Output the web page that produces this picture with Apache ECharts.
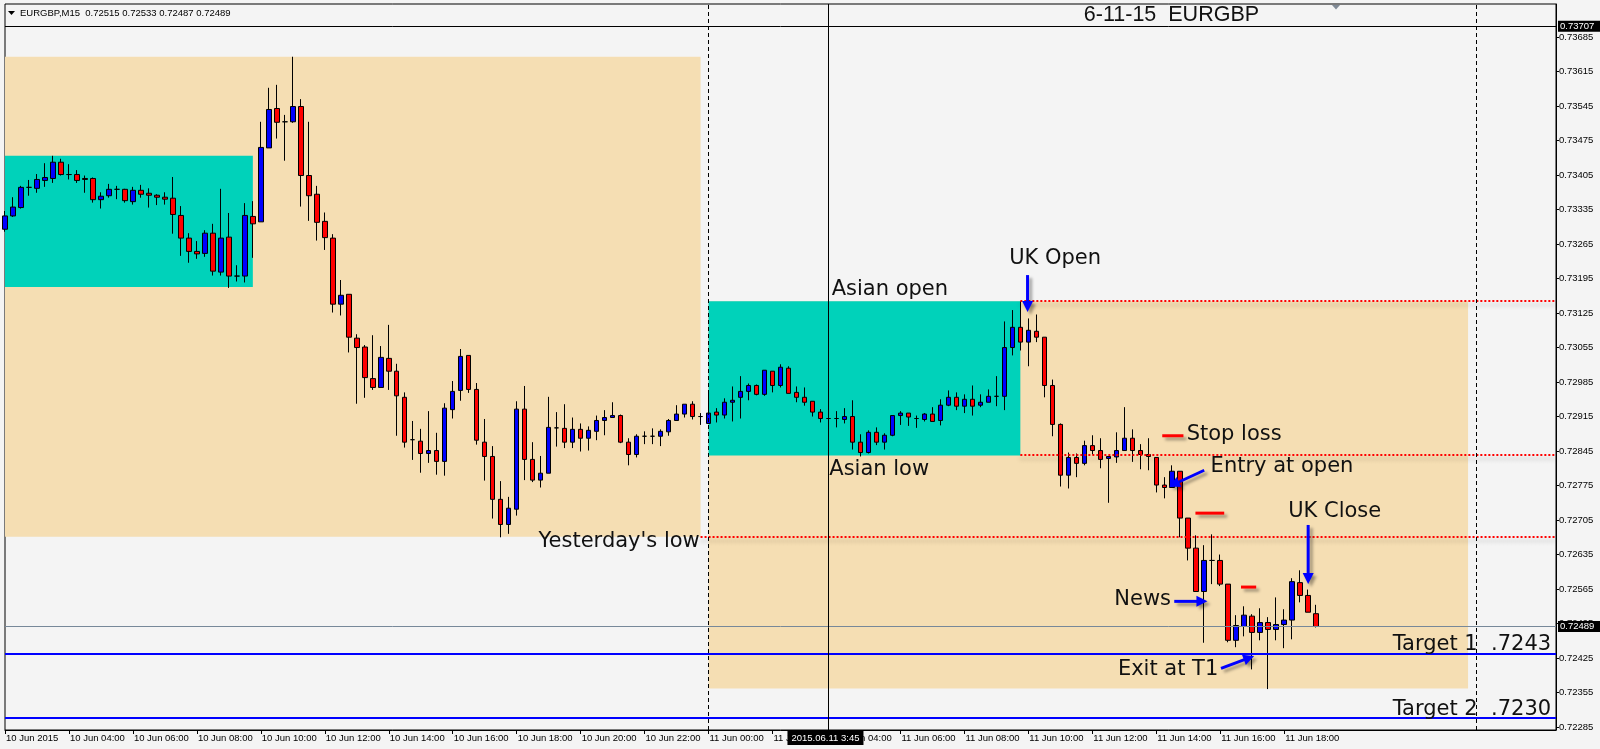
<!DOCTYPE html>
<html><head><meta charset="utf-8">
<script src="https://cdn.jsdelivr.net/npm/echarts/dist/echarts.min.js"></script>
<style>html,body{margin:0;padding:0;background:#f4f4f4}#c{width:1600px;height:749px}</style>
</head><body><div id="c"></div><script>
// ---------- data ----------
const symbol = 'EURGBP';
const period = 'M15';
const chartTitle = '6-11-15  EURGBP';
const xTickLabels = ['10 Jun 2015','10 Jun 04:00','10 Jun 06:00','10 Jun 08:00','10 Jun 10:00','10 Jun 12:00','10 Jun 14:00','10 Jun 16:00','10 Jun 18:00','10 Jun 20:00','10 Jun 22:00','11 Jun 00:00','11 Jun 02:00','11 Jun 04:00','11 Jun 06:00','11 Jun 08:00','11 Jun 10:00','11 Jun 12:00','11 Jun 14:00','11 Jun 16:00','11 Jun 18:00'];
const yTickLabels = [0.72285,0.72355,0.72425,0.72495,0.72565,0.72635,0.72705,0.72775,0.72845,0.72915,0.72985,0.73055,0.73125,0.73195,0.73265,0.73335,0.73405,0.73475,0.73545,0.73615,0.73685];
const openP = [0.73295,0.73322,0.73339,0.73380,0.73378,0.73394,0.73398,0.73431,0.73406,0.73406,0.73398,0.73398,0.73355,0.73363,0.73376,0.73376,0.73351,0.73374,0.73368,0.73364,0.73360,0.73358,0.73323,0.73277,0.73250,0.73246,0.73287,0.73208,0.73279,0.73200,0.73200,0.73321,0.73310,0.73460,0.73540,0.73513,0.73513,0.73544,0.73404,0.73366,0.73311,0.73277,0.73143,0.73163,0.73074,0.73056,0.72992,0.72974,0.73033,0.73007,0.72954,0.72868,0.72865,0.72840,0.72846,0.72824,0.72929,0.72968,0.73039,0.72970,0.72863,0.72834,0.72747,0.72696,0.72727,0.72930,0.72828,0.72786,0.72800,0.72892,0.72891,0.72863,0.72889,0.72871,0.72885,0.72907,0.72913,0.72917,0.72863,0.72838,0.72875,0.72875,0.72875,0.72884,0.72907,0.72920,0.72940,0.72915,0.72901,0.72924,0.72918,0.72944,0.72954,0.72966,0.72978,0.72960,0.73007,0.72978,0.73013,0.72964,0.72954,0.72946,0.72924,0.72911,0.72911,0.72909,0.72915,0.72863,0.72842,0.72883,0.72863,0.72877,0.72917,0.72922,0.72911,0.72909,0.72920,0.72907,0.72938,0.72954,0.72936,0.72950,0.72938,0.72944,0.72956,0.72956,0.73055,0.73096,0.73066,0.73088,0.73076,0.72978,0.72899,0.72796,0.72832,0.72820,0.72856,0.72846,0.72830,0.72833,0.72846,0.72871,0.72846,0.72838,0.72832,0.72776,0.72771,0.72804,0.72709,0.72648,0.72560,0.72623,0.72623,0.72575,0.72461,0.72489,0.72510,0.72477,0.72497,0.72483,0.72493,0.72502,0.72578,0.72552,0.72515];
const closeP = [0.73322,0.73340,0.73380,0.73380,0.73396,0.73400,0.73431,0.73406,0.73406,0.73394,0.73396,0.73355,0.73362,0.73376,0.73376,0.73353,0.73374,0.73366,0.73364,0.73360,0.73356,0.73325,0.73277,0.73250,0.73245,0.73287,0.73210,0.73277,0.73200,0.73200,0.73323,0.73306,0.73461,0.73538,0.73512,0.73513,0.73544,0.73404,0.73363,0.73309,0.73278,0.73143,0.73161,0.73076,0.73055,0.72994,0.72974,0.73035,0.73007,0.72957,0.72863,0.72868,0.72840,0.72846,0.72824,0.72932,0.72966,0.73037,0.72970,0.72867,0.72834,0.72747,0.72696,0.72729,0.72930,0.72828,0.72786,0.72800,0.72893,0.72892,0.72863,0.72889,0.72871,0.72887,0.72907,0.72913,0.72917,0.72863,0.72838,0.72875,0.72875,0.72875,0.72885,0.72907,0.72920,0.72940,0.72915,0.72915,0.72922,0.72918,0.72944,0.72948,0.72966,0.72978,0.72960,0.73009,0.72978,0.73015,0.72962,0.72954,0.72944,0.72924,0.72911,0.72911,0.72911,0.72915,0.72863,0.72842,0.72883,0.72863,0.72877,0.72917,0.72922,0.72914,0.72911,0.72920,0.72905,0.72938,0.72954,0.72936,0.72950,0.72936,0.72944,0.72956,0.72956,0.73055,0.73096,0.73066,0.73090,0.73076,0.72978,0.72899,0.72796,0.72832,0.72820,0.72856,0.72846,0.72828,0.72834,0.72846,0.72871,0.72846,0.72838,0.72834,0.72776,0.72771,0.72804,0.72709,0.72648,0.72560,0.72623,0.72623,0.72575,0.72461,0.72491,0.72512,0.72477,0.72497,0.72483,0.72493,0.72502,0.72580,0.72552,0.72518,0.72489];
const highP = [0.73332,0.73360,0.73383,0.73395,0.73407,0.73429,0.73444,0.73438,0.73427,0.73415,0.73404,0.73400,0.73370,0.73387,0.73383,0.73377,0.73381,0.73385,0.73378,0.73366,0.73370,0.73401,0.73342,0.73287,0.73271,0.73293,0.73306,0.73377,0.73328,0.73222,0.73348,0.73352,0.73513,0.73582,0.73588,0.73527,0.73645,0.73559,0.73513,0.73383,0.73329,0.73285,0.73192,0.73163,0.73082,0.73060,0.73080,0.73058,0.73101,0.73022,0.72964,0.72906,0.72890,0.72926,0.72882,0.72942,0.72987,0.73052,0.73039,0.72983,0.72910,0.72855,0.72784,0.72752,0.72946,0.72977,0.72863,0.72835,0.72955,0.72924,0.72940,0.72913,0.72901,0.72895,0.72917,0.72928,0.72944,0.72919,0.72871,0.72879,0.72885,0.72891,0.72889,0.72910,0.72938,0.72940,0.72946,0.72922,0.72962,0.72932,0.72952,0.72976,0.72997,0.72982,0.72980,0.73009,0.73007,0.73021,0.73017,0.72976,0.72974,0.72946,0.72930,0.72942,0.72926,0.72932,0.72948,0.72879,0.72887,0.72893,0.72881,0.72917,0.72926,0.72922,0.72917,0.72922,0.72934,0.72950,0.72968,0.72964,0.72960,0.72978,0.72960,0.72970,0.72997,0.73108,0.73131,0.73149,0.73114,0.73122,0.73076,0.72990,0.72901,0.72842,0.72840,0.72866,0.72877,0.72871,0.72834,0.72883,0.72934,0.72889,0.72859,0.72871,0.72832,0.72792,0.72816,0.72804,0.72709,0.72674,0.72654,0.72676,0.72635,0.72575,0.72512,0.72530,0.72514,0.72526,0.72508,0.72548,0.72524,0.72587,0.72603,0.72564,0.72533];
const lowP = [0.73290,0.73320,0.73337,0.73363,0.73369,0.73381,0.73389,0.73404,0.73396,0.73389,0.73369,0.73349,0.73337,0.73359,0.73356,0.73349,0.73345,0.73359,0.73339,0.73344,0.73345,0.73286,0.73241,0.73227,0.73235,0.73239,0.73201,0.73201,0.73176,0.73189,0.73187,0.73237,0.73310,0.73460,0.73479,0.73434,0.73511,0.73341,0.73312,0.73272,0.73253,0.73126,0.73120,0.73045,0.72941,0.72953,0.72969,0.72974,0.72969,0.72876,0.72852,0.72827,0.72801,0.72821,0.72797,0.72795,0.72911,0.72947,0.72963,0.72858,0.72785,0.72708,0.72670,0.72677,0.72714,0.72786,0.72782,0.72771,0.72800,0.72854,0.72851,0.72851,0.72844,0.72846,0.72867,0.72877,0.72913,0.72861,0.72816,0.72832,0.72859,0.72859,0.72855,0.72876,0.72907,0.72913,0.72909,0.72898,0.72901,0.72903,0.72911,0.72905,0.72911,0.72948,0.72958,0.72957,0.72964,0.72974,0.72962,0.72944,0.72937,0.72915,0.72903,0.72897,0.72893,0.72901,0.72848,0.72834,0.72840,0.72857,0.72848,0.72875,0.72898,0.72896,0.72892,0.72905,0.72905,0.72897,0.72936,0.72928,0.72922,0.72917,0.72934,0.72944,0.72936,0.72928,0.73039,0.73049,0.73017,0.73066,0.72954,0.72875,0.72773,0.72769,0.72792,0.72816,0.72838,0.72810,0.72740,0.72821,0.72846,0.72823,0.72808,0.72806,0.72761,0.72749,0.72771,0.72670,0.72623,0.72560,0.72456,0.72575,0.72571,0.72457,0.72447,0.72469,0.72402,0.72461,0.72362,0.72461,0.72445,0.72463,0.72538,0.72518,0.72487];

// price levels / drawn objects
const topLine = 0.73707, bidLine = 0.72489;
const target1 = 0.72433, target2 = 0.72304;
const asianOpenLvl = 0.73149, asianLowLvl = 0.72837, yLowLvl = 0.72671;
// rectangles: [startBar, endBar, high, low]
const prevDayBox = [0, 87, 0.73645, 0.72671];
const prevAsiaBox = [0, 31, 0.73444, 0.73178];
const dayBox = [88, 183, 0.73149, 0.72363];
const asiaBox = [88, 127, 0.73149, 0.72836];
const separators = [88, 184];
const cursorBar = 103;

// ---------- layout ----------
const N = 195;
const t0 = Date.UTC(2015, 5, 10, 2, 0);
const pad = n => String(n).padStart(2, '0');
const categories = [];
for (let i = 0; i < N; i++) {
  const d = new Date(t0 + i * 900000);
  categories.push(d.getUTCFullYear() + '.' + pad(d.getUTCMonth() + 1) + '.' + pad(d.getUTCDate()) + ' ' + pad(d.getUTCHours()) + ':' + pad(d.getUTCMinutes()));
}
const ohlc = openP.map((o, i) => [o, closeP[i], lowP[i], highP[i]]);

const BEIGE = '#F5DEB3', TEAL = '#00D2BA';
const redDot = {color: '#ff0000', width: 2, type: [2, 2], shadowColor: 'rgba(0,0,0,0.28)', shadowBlur: 4, shadowOffsetY: 4};
const sepStyle = {color: '#000', width: 1, type: [4, 3]};
const hLine = (v, style) => [{coord: [0, v], lineStyle: style}, {coord: [N - 1, v]}];

const chart = echarts.init(document.getElementById('c'), null, {renderer: 'canvas'});
chart.setOption({
  animation: false,
  backgroundColor: '#f4f4f4',
  grid: {left: 5, right: 44, top: 4, bottom: 19, show: true, borderColor: '#000', borderWidth: 1},
  xAxis: {
    type: 'category', data: categories, boundaryGap: false,
    axisLine: {lineStyle: {color: '#000', width: 1}},
    axisTick: {show: true, length: 4, interval: (i) => i % 8 === 0 && i / 8 < xTickLabels.length, lineStyle: {color: '#000'}},
    axisLabel: {
      interval: (i) => i % 8 === 0 && i / 8 < xTickLabels.length,
      formatter: (v, i) => xTickLabels[i / 8] || '',
      align: 'left', margin: 3, color: '#000', fontSize: 9.5, fontFamily: 'Liberation Sans', padding: [0, 0, 0, 1]
    },
    splitLine: {show: false}
  },
  yAxis: {
    type: 'value', position: 'right', min: 0.72279, max: 0.73752, scale: true,
    axisLine: {show: true, lineStyle: {color: '#000', width: 1}},
    axisTick: {show: true, length: 3, customValues: yTickLabels, lineStyle: {color: '#000'}},
    axisLabel: {customValues: yTickLabels, formatter: v => v.toFixed(5), margin: 3, color: '#000', fontSize: 9.5, fontFamily: 'Liberation Sans'},
    splitLine: {show: false}
  },
  series: [{
    type: 'candlestick', data: ohlc, barWidth: 5, silent: true, z: 3,
    itemStyle: {color: '#0000ff', color0: '#ff0000', borderColor: '#000', borderColor0: '#000', borderColorDoji: '#000', borderWidth: 1},
    markArea: {
      silent: true, z: 1, label: {show: false},
      data: [
        [{xAxis: prevDayBox[0], yAxis: prevDayBox[2], itemStyle: {color: BEIGE, opacity: 1}}, {xAxis: prevDayBox[1], yAxis: prevDayBox[3]}],
        [{xAxis: prevAsiaBox[0], yAxis: prevAsiaBox[2], itemStyle: {color: TEAL, opacity: 1}}, {xAxis: prevAsiaBox[1], yAxis: prevAsiaBox[3]}],
        [{xAxis: dayBox[0], yAxis: dayBox[2], itemStyle: {color: BEIGE, opacity: 1}}, {xAxis: dayBox[1], yAxis: dayBox[3]}],
        [{xAxis: asiaBox[0], yAxis: asiaBox[2], itemStyle: {color: TEAL, opacity: 1}}, {xAxis: asiaBox[1], yAxis: asiaBox[3]}]
      ]
    },
    markLine: {
      silent: true, symbol: ['none', 'none'], label: {show: false}, z: 4, animation: false,
      data: [
        hLine(topLine, {color: '#000', width: 1, type: 'solid'}),
        hLine(bidLine, {color: '#778899', width: 1, type: 'solid'}),
        hLine(target1, {color: '#0000ff', width: 2, type: 'solid'}),
        hLine(target2, {color: '#0000ff', width: 2, type: 'solid'}),
        [{coord: [asiaBox[1], asianOpenLvl], lineStyle: redDot}, {coord: [N - 1, asianOpenLvl]}],
        [{coord: [asiaBox[1], asianLowLvl], lineStyle: redDot}, {coord: [N - 1, asianLowLvl]}],
        [{coord: [prevDayBox[1], yLowLvl], lineStyle: redDot}, {coord: [N - 1, yLowLvl]}],
        {xAxis: separators[0], lineStyle: sepStyle},
        {xAxis: separators[1], lineStyle: sepStyle},
        {xAxis: cursorBar, lineStyle: {color: '#000', width: 1, type: 'solid'}}
      ]
    }
  }]
});

// ---------- annotations (anchored in bar index / price) ----------
const texts = [
  {t: 'Asian open', at: [103.4, 0.73172], align: 'left'},
  {t: 'Asian low', at: [103.1, 0.72808], align: 'left'},
  {t: 'UK Open', at: [125.6, 0.73235], align: 'left'},
  {t: 'Stop loss', at: [147.8, 0.72878], align: 'left'},
  {t: 'Entry at open', at: [150.8, 0.72813], align: 'left'},
  {t: 'UK Close', at: [160.5, 0.72723], align: 'left'},
  {t: 'News', at: [138.75, 0.72544], align: 'left'},
  {t: 'Exit at T1', at: [139.2, 0.72402], align: 'left'},
  {t: "Yesterday's low", at: [86.9, 0.72662], align: 'right'},
  {t: 'Target 1  .7243', at: [193.4, 0.72453], align: 'right'},
  {t: 'Target 2  .7230', at: [193.4, 0.72320], align: 'right'}
];
const redMarks = [[144.75, 147.4, 0.72876], [148.9, 152.5, 0.72719], [154.6, 156.5, 0.72569]];
const arrows = [
  [[127.9, 0.73202], [127.9, 0.73127]],
  [[163.0, 0.72695], [163.0, 0.72575]],
  [[146.25, 0.72540], [150.4, 0.72540]],
  [[152.1, 0.72404], [156.25, 0.72429]],
  [[150.0, 0.72806], [145.6, 0.72773]]
];

function P(idx, price) {
  const x0 = chart.convertToPixel({xAxisIndex: 0}, 0);
  const x1 = chart.convertToPixel({xAxisIndex: 0}, 1);
  const y = chart.convertToPixel({yAxisIndex: 0}, price);
  return [x0 + (x1 - x0) * idx, y];
}
const shadow = {shadowColor: 'rgba(0,0,0,0.35)', shadowBlur: 3, shadowOffsetX: 3, shadowOffsetY: 3};
const g = [];
texts.forEach(a => {
  const [x, y] = P(a.at[0], a.at[1]);
  g.push({type: 'text', x, y, z: 100, style: {text: a.t, font: '21px "DejaVu Sans"', fill: '#111', align: a.align, verticalAlign: 'middle'}});
});
redMarks.forEach(m => {
  const [xa, y] = P(m[0], m[2]); const [xb] = P(m[1], m[2]);
  g.push({type: 'line', z: 100, shape: {x1: xa, y1: y, x2: xb, y2: y}, style: Object.assign({stroke: '#ff0000', lineWidth: 3}, shadow)});
});
arrows.forEach(a => {
  const [x1, y1] = P(a[0][0], a[0][1]); const [x2, y2] = P(a[1][0], a[1][1]);
  const dx = x2 - x1, dy = y2 - y1, len = Math.hypot(dx, dy), ux = dx / len, uy = dy / len;
  const hl = 11, hw = 5.5; const bx = x2 - ux * hl, by = y2 - uy * hl;
  g.push({type: 'line', z: 100, shape: {x1, y1, x2: bx + ux * 2, y2: by + uy * 2}, style: Object.assign({stroke: '#0000ff', lineWidth: 3}, shadow)});
  g.push({type: 'polygon', z: 100, shape: {points: [[x2, y2], [bx - uy * hw, by + ux * hw], [bx + uy * hw, by - ux * hw]]}, style: Object.assign({fill: '#0000ff'}, shadow)});
});
// title
const [tx, ty] = P(145.9, 0.73730);
g.push({type: 'text', x: tx, y: ty, z: 100, style: {text: chartTitle, font: '21.5px "Liberation Sans"', fill: '#111', align: 'center', verticalAlign: 'middle'}});
// header
const last = ohlc.length - 1;
const header = symbol + ',' + period + '  ' + [openP[last], highP[last], lowP[last], closeP[last]].map(v => v.toFixed(5)).join(' ');
g.push({type: 'polygon', z: 100, shape: {points: [[8, 11], [15, 11], [11.5, 15]]}, style: {fill: '#000'}});
g.push({type: 'text', x: 20, y: 13, z: 100, style: {text: header, font: '9.5px "Liberation Sans"', fill: '#000', verticalAlign: 'middle'}});
// chart-shift marker
g.push({type: 'polygon', z: 100, shape: {points: [[1332, 5], [1340, 5], [1336, 9.5]]}, style: {fill: '#808a96'}});
// price boxes on axis
const axX = P(N - 1, bidLine)[0];
[topLine, bidLine].forEach(v => {
  const y = P(0, v)[1];
  g.push({type: 'rect', z: 100, shape: {x: axX + 2, y: y - 5.5, width: 44, height: 11}, style: {fill: '#000'}});
  g.push({type: 'text', z: 101, x: axX + 4, y: y, style: {text: v.toFixed(5), font: '9.5px "Liberation Sans"', fill: '#fff', verticalAlign: 'middle'}});
});
// cursor time label
const cx = P(cursorBar, bidLine)[0] - 3;
const gridBottom = P(0, 0.72279)[1];
g.push({type: 'rect', z: 100, shape: {x: cx - 38, y: gridBottom + 1, width: 76, height: 14}, style: {fill: '#000'}});
g.push({type: 'text', z: 101, x: cx, y: gridBottom + 8, style: {text: '2015.06.11 3:45', font: '9.5px "Liberation Sans"', fill: '#fff', align: 'center', verticalAlign: 'middle'}});
chart.setOption({graphic: g});
</script></body></html>
